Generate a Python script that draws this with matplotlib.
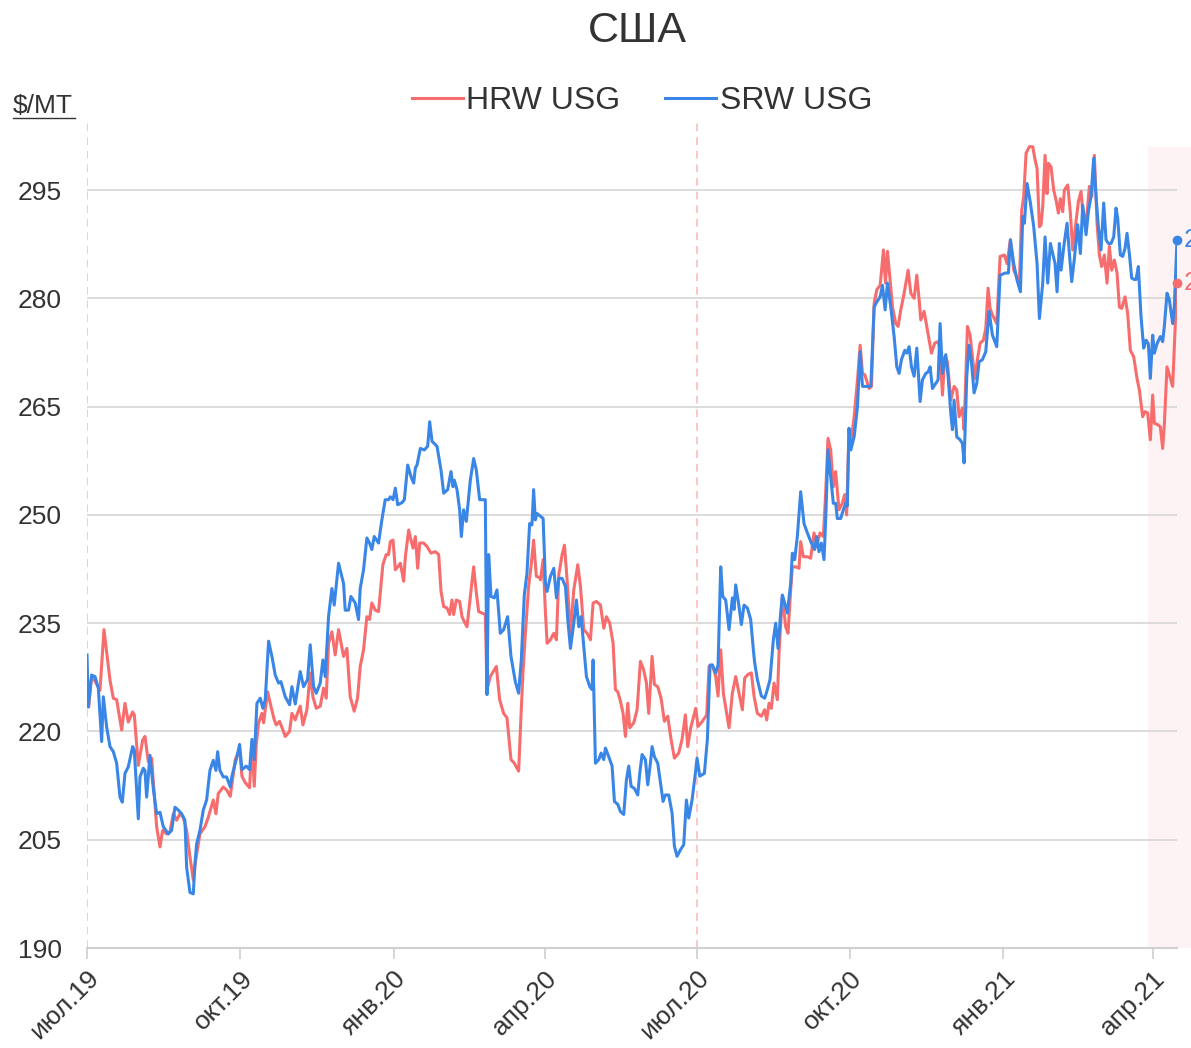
import numpy as np
import pandas as pd
import matplotlib
matplotlib.use('Agg')
import matplotlib.pyplot as plt
import matplotlib.dates as mdates
from matplotlib.lines import Line2D

plt.rcParams['font.family'] = ['Liberation Sans', 'DejaVu Sans']

# prices in $/MT, x as days since 1 Jul 2019
start = pd.Timestamp('2019-07-01')

hrw_day = [0, 1, 2.8, 7.8, 10.2, 13.8, 15.8, 17.8, 20.8, 22.8, 24.8, 27.4, 28.4, 30.8, 33.4, 34.8,
           36.8, 38.8, 41.8, 43.8, 45.4, 47.8, 49.8, 51.8, 53.8, 55.8, 57.8, 59.8, 61.8, 63.8, 65.2,
           67.8, 70.8, 72.8, 75.8, 77.4, 78.8, 81.8, 83.8,
           86, 89, 91.6, 93, 95, 97.6, 99, 100.4, 101.6, 103, 105, 106, 108.4, 110.4, 112.4, 113.6,
           115.6, 117.6, 119, 121.6, 123, 125, 126, 128, 129.6, 132, 134, 135.6, 137.6, 140, 142,
           143.6, 145, 147, 149, 151, 154, 156, 158, 160.4, 162.4, 164, 166, 168, 169.6, 171, 173,
           175, 177.6, 179.6, 181,
           182.1, 183.7, 185.1, 186.5, 188.1, 190.1, 191.1, 193.1, 194.5, 195.7, 197.1, 198.5, 199.7,
           202.1, 204.1, 206.5, 209.1, 211.1, 212.5, 214.1, 216.1, 217.7, 219.1, 220.1, 221.7, 223.7,
           225.1, 226.5, 228.1, 230.1, 232.1, 233.7, 235.1, 237.1, 239.1, 240.1, 242.1, 245.7, 247.7,
           250.1, 252.1, 254.5, 256.5, 259.1, 260.5, 261.7, 263.1, 265.1, 266.5, 268.1, 269.7, 271.7,
           272.2, 273.8, 275.2, 276.2, 278.2, 280.2, 281.8, 283.2, 285.2, 286.6, 288.2, 290.2, 292.2,
           294.6, 296.2, 298.2, 300.2, 302.2, 303.8, 305.8, 308.2, 310.2, 311.8, 313.8, 315.8, 317.2,
           318.6, 320.2, 321.8, 323.2, 324.6, 325.8, 328.2, 330.2, 332.2, 334.2, 335.8, 337.2, 339.2,
           340.6, 342.6, 344.6, 346.6, 348.6, 350.6, 352.6, 355.2, 357.2, 359.2, 360.6,
           362.4, 365.4, 366.8, 369.4, 372.0, 373.4, 375.4, 377.4, 378.8, 380.4, 382.0, 384.0, 385.4,
           387.4, 389.4, 391.4, 393.4, 394.8, 396.8, 398.8, 400.4, 402.4, 404.8, 406.8, 408.0, 409.4,
           410.8, 412.4, 414.4, 415.4, 417.4, 419.4, 420.8, 422.4, 423.4, 425.4, 427.4, 428.4, 430.0,
           432.4, 434.4, 436.4, 438.0, 440.0, 442.0, 443.4, 444.8, 446.4, 448.0, 449.4, 451.4, 453.4,
           454.8, 456.0, 457.4,
           458.5, 460.5, 462.5, 464.1, 465.5, 466.9, 469.5, 470.9, 472.5, 474.1, 476.1, 478.1, 479.3,
           480.5, 482.1, 483.5, 485.5, 486.9, 488.5, 490.5, 492.9, 494.5, 496.5, 498.1, 499.5, 500.5,
           502.5, 504.1, 505.5, 506.9, 508.9, 510.9, 512.1, 513.5, 514.9, 516.5, 518.5, 520.5, 522.1,
           523.5, 525.5, 526.5, 528.5, 530.1, 531.5, 532.9, 534.5, 536.1, 538.1, 539.5, 540.9, 542.1,
           543.5, 546.1, 548.1,
           550.7, 552.3, 554.3, 556.3, 558.3, 559.7, 561.1, 562.3, 563.7, 565.7, 567.7, 569.1, 570.3,
           571.7, 572.7, 573.7, 575.1, 576.3, 577.1, 578.7, 580.3, 581.7, 583.1, 584.3, 585.7, 586.7,
           588.7, 590.3, 591.7, 593.1, 595.1, 596.7, 598.3, 600.3, 601.7, 603.1, 604.7, 606.3, 607.7,
           609.1, 610.7, 612.3, 613.7, 615.1, 616.7, 618.3, 619.7, 621.1, 623.1, 624.7, 626.3, 628.3,
           630.3, 631.7, 633.7, 635.1, 636.7, 638.3, 639.7, 640.7, 642.7, 644.3, 645.7, 646.7, 648.3,
           649.7, 651.7, 653.1, 654.3]
hrw_usd = [226.0, 223.4, 227.8, 225.7, 234.1, 227.1, 224.6, 224.4, 220.2, 223.9, 221.3, 222.7, 222.3,
           215.3, 218.8, 219.3, 215.8, 216.3, 206.8, 204.0, 206.3, 205.8, 206.1, 208.6, 207.7, 208.6,
           208.1, 206.3, 202.6, 199.4, 202.1, 205.8, 206.8, 208.1, 210.5, 208.6, 211.4, 212.3, 211.9,
           211.0, 216.1, 217.5, 213.8, 212.9, 212.2, 218.4, 212.4, 218.2, 221.2, 222.5, 221.2, 225.5,
           223.5, 221.6, 220.9, 221.4, 220.2, 219.3, 220.0, 222.5, 221.6, 222.3, 223.5, 220.9, 223.0,
           228.1, 224.8, 223.2, 223.5, 226.0, 224.6, 232.2, 233.8, 230.6, 234.1, 230.4, 231.5, 224.8,
           222.8, 224.6, 229.0, 231.3, 235.9, 235.5, 237.8, 236.8, 236.6, 243.1, 244.5, 244.5,
           246.3, 246.5, 242.4, 242.8, 243.3, 240.8, 244.2, 247.9, 246.5, 245.4, 247.0, 242.6, 246.1,
           246.1, 245.6, 244.7, 244.9, 244.5, 239.4, 237.3, 237.1, 236.2, 238.2, 236.2, 238.2, 238.0,
           235.9, 235.2, 234.5, 238.7, 242.8, 239.2, 236.6, 236.4, 236.2, 225.8, 227.6, 229.0, 224.4,
           222.5, 221.9, 216.1, 215.6, 214.5, 222.1, 228.1, 233.4, 240.1, 242.8, 246.5, 241.5, 241.3,
           241.0, 243.8, 236.4, 232.2, 232.7, 233.6, 232.7, 241.7, 244.5, 245.8, 241.0, 233.6, 239.6,
           243.1, 240.1, 234.1, 233.6, 232.7, 237.8, 238.0, 237.5, 234.3, 235.9, 235.0, 232.2, 225.8,
           225.5, 224.2, 222.5, 219.3, 223.9, 220.5, 221.2, 223.0, 229.7, 228.5, 226.7, 222.5, 230.4,
           226.5, 226.2, 224.6, 221.4, 222.1, 218.9, 216.3, 217.0, 218.9, 222.3, 217.9,
           220.5, 223.2, 220.7, 221.4, 222.3, 229.0, 229.2, 227.6, 224.9, 231.3, 225.3, 222.5, 220.5,
           225.3, 227.6, 225.3, 223.0, 227.4, 227.9, 228.1, 224.9, 222.5, 222.1, 223.0, 221.6, 223.9,
           223.2, 226.7, 224.4, 230.9, 238.7, 234.5, 233.6, 239.6, 242.8, 242.8, 242.6, 246.3, 244.2,
           244.2, 244.0, 247.5, 245.6, 247.5, 247.0, 253.0, 260.6, 259.0, 253.9, 256.0, 250.7, 251.6,
           252.8, 250.0, 261.8,
           259.9, 263.6, 268.7, 273.5, 269.6, 269.4, 267.5, 267.8, 279.3, 281.2, 281.8, 286.7, 282.1,
           286.5, 282.5, 278.8, 276.5, 276.1, 278.4, 280.7, 283.9, 280.7, 280.0, 283.2, 279.8, 277.0,
           278.2, 276.1, 274.2, 272.4, 273.8, 274.0, 272.8, 266.6, 271.9, 271.2, 265.9, 267.8, 267.3,
           263.6, 264.8, 261.8, 276.1, 274.9, 271.9, 268.9, 271.5, 273.8, 274.2, 275.8, 281.4, 278.6,
           277.7, 276.5, 285.8,
           286.0, 284.8, 288.1, 283.9, 282.8, 282.3, 292.2, 294.1, 300.1, 301.0, 301.0, 299.2, 298.0,
           289.9, 290.2, 292.7, 299.8, 294.5, 298.7, 298.2, 295.0, 293.6, 291.8, 293.8, 292.0, 295.0,
           295.7, 291.8, 286.7, 289.5, 293.4, 294.8, 290.4, 291.8, 295.5, 294.1, 299.8, 290.4, 286.0,
           284.4, 286.0, 282.1, 287.2, 283.9, 285.3, 283.5, 278.8, 278.6, 280.2, 277.9, 272.8, 271.9,
           268.9, 267.3, 263.6, 264.3, 264.1, 260.4, 266.6, 262.7, 262.5, 262.2, 259.2, 262.5, 270.5,
           269.4, 267.8, 275.6, 282.1]

srw_day = [0, 0.8, 2.8, 4.8, 6.8, 8.8, 9.8, 11.8, 13.8, 15.8, 17.8, 19.8, 21.2, 22.8, 24.8, 27.4,
           28.4, 30.8, 31.8, 33.8, 34.8, 35.8, 37.8, 39.8, 41.8, 43.8, 45.8, 48.8, 50.8, 52.8, 54.8,
           56.8, 58.8, 59.8, 61.8, 63.8, 64.8, 65.8, 67.8, 69.8, 71.8, 73.8, 75.8, 77.4, 78.4, 79.8,
           81.8, 83.8,
           86, 87, 90, 91.6, 93, 95.6, 97.6, 99, 100.4, 102, 104, 105.6, 107, 109, 111, 113, 115,
           116.4, 119, 121.6, 123, 125, 128, 130, 132.4, 134, 136, 137.6, 140, 141.6, 143, 145, 147,
           148.4, 151, 154, 155, 157, 158.4, 161, 163, 164, 166, 168, 169.6, 171, 172.4, 175, 177,
           179, 181,
           182.1, 183.7, 185.1, 186.5, 189.1, 190.5, 192.5, 194.5, 196.1, 197.1, 198.1, 200.1, 202.5,
           204.5, 205.7, 207.1, 210.1, 212.5, 214.1, 216.5, 218.5, 219.7, 220.5, 222.1, 223.7, 224.7,
           226.1, 227.7, 230.1, 232.1, 233.7, 235.7, 239.1, 240.1, 241.1, 242.5, 244.5, 246.1, 248.1,
           250.1, 252.5, 254.5, 257.1, 259.1, 260.7, 262.5, 264.1, 265.7, 267.1, 268.1, 269.1, 270.1,
           272.2, 273.8, 275.2, 276.2, 278.2, 280.2, 281.8, 283.2, 285.2, 287.2, 288.6, 290.2, 292.2,
           293.8, 295.2, 296.6, 298.2, 299.8, 301.8, 303.2, 303.8, 305.2, 307.2, 308.6, 310.2, 311.2,
           313.2, 315.2, 316.6, 318.6, 320.2, 322.2, 323.8, 325.2, 326.6, 328.6, 330.6, 331.8, 333.2,
           335.2, 336.6, 338.2, 339.2, 340.6, 342.6, 344.2, 345.8, 347.2, 349.2, 351.2, 352.6, 354.2,
           356.2, 358.2, 359.8, 361.2, 363.2, 365.2, 366.2, 367.8, 370.6,
           372.4, 374.0, 375.4, 377.4, 378.8, 380.4, 381.6, 383.4, 385.4, 387.4, 388.4, 389.4, 391.4,
           392.8, 394.4, 396.4, 398.4, 400.0, 400.8, 402.4, 404.8, 406.8, 408.4, 410.0, 412.0, 413.4,
           414.8, 416.4, 417.4, 418.8, 420.4, 422.4, 423.4, 424.8, 426.4, 428.4, 430.4, 432.4, 434.8,
           436.8, 438.0, 439.4, 440.8, 442.4, 443.4, 444.8, 446.4, 448.0, 449.4, 450.4, 452.4, 454.0,
           455.4, 456.4, 457.4,
           458.5, 460.5, 462.5, 464.1, 465.5, 467.5, 470.5, 472.5, 474.1, 476.1, 477.5, 479.1, 480.5,
           482.5, 484.5, 486.1, 487.5, 488.9, 490.9, 492.1, 493.5, 494.9, 496.5, 498.1, 500.1, 501.5,
           503.5, 504.9, 506.1, 507.5, 509.5, 510.9, 512.1, 513.5, 515.5, 516.9, 518.5, 519.5, 520.5,
           522.1, 524.1, 525.5, 526.5, 528.1, 529.5, 530.9, 532.5, 534.1, 535.5, 537.5, 539.5, 541.5,
           543.5, 546.1, 548.1,
           551.1, 553.1, 554.3, 556.3, 558.3, 560.3, 561.7, 562.7, 564.3, 566.3, 568.3, 570.3, 571.7,
           573.7, 575.1, 576.7, 578.3, 579.7, 581.1, 582.3, 583.7, 584.7, 586.7, 588.3, 589.7, 591.1,
           592.7, 594.7, 596.3, 597.7, 599.7, 601.1, 602.7, 604.3, 605.7, 607.1, 608.7, 610.3, 611.7,
           613.1, 614.7, 616.3, 617.7, 618.7, 620.3, 621.7, 623.1, 624.3, 625.7, 627.1, 628.7, 629.7,
           631.1, 632.7, 634.3, 635.7, 637.1, 638.3, 639.7, 640.7, 642.3, 644.3, 645.7, 646.7, 648.3,
           649.7, 651.7, 652.7, 654.3]
srw_usd = [230.6, 223.4, 227.8, 227.6, 226.0, 218.6, 224.8, 220.6, 217.9, 217.2, 215.6, 210.9, 210.2,
           214.2, 215.1, 217.9, 217.4, 207.9, 213.7, 214.9, 214.6, 210.9, 216.7, 212.1, 208.6, 208.8,
           206.8, 205.8, 206.3, 209.5, 209.1, 208.6, 207.7, 201.2, 197.7, 197.5, 201.7, 204.4, 206.3,
           209.1, 210.5, 214.6, 216.0, 214.6, 217.2, 214.6, 213.7, 213.7,
           212.3, 213.8, 216.5, 218.2, 214.7, 215.2, 214.7, 218.9, 216.1, 223.9, 224.6, 223.2, 224.4,
           232.5, 230.4, 227.8, 226.7, 226.9, 224.8, 223.7, 226.2, 223.8, 228.3, 226.2, 227.2, 232.0,
           226.2, 225.3, 226.7, 229.9, 227.6, 235.9, 239.8, 237.5, 243.3, 240.5, 236.8, 236.8, 238.7,
           237.8, 235.5, 239.8, 242.4, 246.8, 246.1, 245.2, 247.0, 246.1, 249.3, 252.1, 252.1,
           252.5, 252.1, 253.7, 251.4, 251.7, 252.1, 256.9, 255.3, 254.4, 256.5, 256.9, 259.2, 259.0,
           259.5, 262.9, 260.2, 259.5, 256.2, 253.0, 253.5, 256.0, 253.9, 254.8, 253.5, 250.7, 247.0,
           250.7, 249.1, 254.8, 257.8, 256.2, 252.1, 252.1, 225.1, 244.5, 238.7, 238.5, 239.6, 233.6,
           234.1, 235.9, 230.4, 226.9, 225.3, 229.9, 238.9, 241.9, 248.8, 248.6, 253.5, 249.3, 250.2,
           249.8, 249.5, 240.5, 239.4, 241.5, 242.6, 238.5, 241.2, 241.2, 240.1, 235.5, 231.5, 235.0,
           238.2, 234.5, 235.9, 231.8, 227.6, 226.2, 225.8, 229.9, 215.6, 216.1, 217.0, 216.1, 217.7,
           216.5, 215.2, 210.3, 209.9, 208.9, 208.5, 213.3, 215.2, 212.4, 212.1, 211.2, 214.2, 216.8,
           216.1, 212.6, 215.6, 217.9, 216.5, 215.6, 212.9, 210.3, 211.2, 211.2, 208.7, 204.1, 202.7,
           203.6, 204.3, 210.5, 208.0, 210.5, 214.2, 216.3, 213.8, 214.2,
           218.9, 229.2, 229.2, 228.1, 229.2, 242.8, 238.7, 238.2, 234.1, 238.5, 236.9, 240.3, 237.3,
           234.8, 237.5, 237.1, 235.5, 231.3, 229.5, 227.2, 224.9, 224.6, 225.8, 227.2, 232.7, 235.0,
           231.5, 236.4, 238.9, 237.8, 236.4, 240.5, 244.7, 243.8, 247.0, 253.2, 248.8, 247.5, 246.1,
           245.2, 247.0, 244.9, 246.1, 243.8, 249.3, 259.0, 255.3, 251.6, 251.6, 249.5, 249.5, 250.7,
           251.6, 251.2, 262.0,
           259.0, 260.8, 265.0, 272.6, 267.8, 267.8, 267.8, 278.8, 279.5, 280.2, 281.8, 278.4, 282.1,
           278.8, 274.7, 270.5, 269.6, 271.5, 272.8, 272.4, 273.3, 270.5, 269.2, 273.1, 265.7, 268.7,
           269.6, 269.8, 270.5, 267.5, 268.2, 268.7, 276.5, 269.6, 272.2, 269.2, 264.1, 261.8, 265.9,
           260.8, 260.4, 259.9, 257.2, 269.2, 273.5, 271.2, 266.9, 268.2, 271.2, 271.5, 272.6, 278.2,
           274.9, 273.3, 283.2,
           283.5, 283.5, 288.1, 284.8, 282.5, 280.9, 291.3, 290.4, 295.9, 293.2, 289.9, 284.8, 277.2,
           282.1, 288.5, 282.1, 287.6, 286.2, 284.8, 280.9, 287.6, 283.9, 287.8, 290.4, 286.2, 282.3,
           285.5, 290.2, 286.2, 292.9, 288.8, 292.0, 294.1, 299.4, 294.1, 289.9, 286.7, 293.2, 288.1,
           287.6, 287.6, 288.5, 292.5, 291.1, 286.0, 285.8, 286.9, 289.0, 286.2, 282.8, 282.6, 282.6,
           284.4, 277.5, 273.1, 274.2, 273.7, 268.9, 274.9, 272.4, 273.7, 274.7, 274.0, 276.1, 280.7,
           279.8, 276.5, 278.8, 288.1]

tick_dates = ['2019-07-01', '2019-10-01', '2020-01-01', '2020-04-01',
              '2020-07-01', '2020-10-01', '2021-01-01', '2021-04-01']
tick_labels = ['июл.19', 'окт.19', 'янв.20', 'апр.20', 'июл.20', 'окт.20', 'янв.21', 'апр.21']
season_starts = ['2019-07-01', '2020-07-01']
band_from, band_to = '2021-03-29', '2021-04-24'
y_ticks = [190, 205, 220, 235, 250, 265, 280, 295]

RED = '#f76d6d'
BLUE = '#3a86e6'
TXT = '#333333'

hrw_x = start + pd.to_timedelta(hrw_day, unit='D')
srw_x = start + pd.to_timedelta(srw_day, unit='D')

fig = plt.figure(figsize=(11.91, 10.48), dpi=100)
ax = fig.add_axes([87 / 1191, 100 / 1048, (1177 - 87) / 1191, (948 - 120) / 1048])

ymin, ymax = 190, 304.7
ax.set_ylim(ymin, ymax)
ax.set_xlim(start, max(hrw_x[-1], srw_x[-1]))

# shaded recent period, up to the max of the data
top = max(max(hrw_usd), max(srw_usd))
ax.axvspan(pd.Timestamp(band_from), pd.Timestamp(band_to), ymin=0, ymax=(top - ymin) / (ymax - ymin),
           color='#fef3f4', lw=0, clip_on=False, zorder=0)

for d in season_starts:
    ax.axvline(pd.Timestamp(d), color='#fbc6c6', lw=1.4, ls=(0, (4, 3)), zorder=2)

ax.set_yticks(y_ticks)
ax.grid(axis='y', color='#d9d9d9', lw=1.3)
ax.set_axisbelow(True)

ax.plot(hrw_x, hrw_usd, color=RED, lw=2.2, label='HRW USG', zorder=3)
ax.plot(srw_x, srw_usd, color=BLUE, lw=2.2, label='SRW USG', zorder=4)

for x, vals, col in [(hrw_x, hrw_usd, RED), (srw_x, srw_usd, BLUE)]:
    ax.plot(x[-1], vals[-1], 'o', color=col, ms=6, zorder=5, clip_on=False)
    ax.annotate(f'{vals[-1]:.0f}', (x[-1], vals[-1]), xytext=(5, 0), textcoords='offset points',
                va='center', ha='left', fontsize=19, color=col, annotation_clip=False)

ax.set_xticks(pd.to_datetime(tick_dates))
ax.set_xticklabels(tick_labels, rotation=45, ha='right', rotation_mode='anchor')
ax.tick_params(axis='x', length=8, width=1.2, color='#d0d0d0', labelsize=19, labelcolor=TXT, pad=5)
ax.tick_params(axis='y', length=0, labelsize=19, labelcolor=TXT, pad=18)

for s in ['top', 'right', 'left']:
    ax.spines[s].set_visible(False)
ax.spines['bottom'].set_color('#d0d0d0')
ax.spines['bottom'].set_linewidth(1.5)

fig.text(637 / 1191, 1 - 31 / 1048, 'США', ha='center', va='center', fontsize=31, color=TXT)
fig.legend(handles=[Line2D([], [], color=RED, lw=2.2), Line2D([], [], color=BLUE, lw=2.2)],
           labels=['HRW USG', 'SRW USG'], loc='center', bbox_to_anchor=(642 / 1191, 1 - 101 / 1048),
           ncol=2, frameon=False, fontsize=23, handlelength=1.6, handletextpad=0.1,
           columnspacing=1.4, labelcolor=TXT)

fig.text(13 / 1191, 1 - 106 / 1048, '$/MT', ha='left', va='center', fontsize=19, color=TXT)
fig.add_artist(Line2D([13 / 1191, 75 / 1191], [1 - 118 / 1048, 1 - 118 / 1048], color=TXT, lw=1))

fig.savefig('out.png', dpi=100)
